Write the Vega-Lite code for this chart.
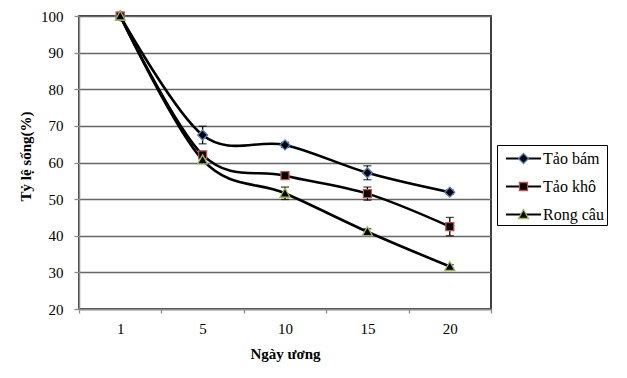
{
  "$schema": "https://vega.github.io/schema/vega-lite/v6.json",
  "width": 412,
  "height": 293,
  "autosize": "none",
  "padding": {"left": 79, "top": 16, "right": 136, "bottom": 69},
  "background": "white",
  "config": {
    "font": "Liberation Serif",
    "view": {"stroke": "black", "strokeWidth": 1.5}
  },
  "data": {
    "values": [
      {"day": "1", "series": "Tảo bám", "value": 100, "err": 0},
      {"day": "5", "series": "Tảo bám", "value": 67.5, "err": 2.4},
      {"day": "10", "series": "Tảo bám", "value": 64.8, "err": 0.7},
      {"day": "15", "series": "Tảo bám", "value": 57.2, "err": 1.9},
      {"day": "20", "series": "Tảo bám", "value": 51.9, "err": 0.6},
      {"day": "1", "series": "Tảo khô", "value": 100, "err": 0},
      {"day": "5", "series": "Tảo khô", "value": 62.1, "err": 0.8},
      {"day": "10", "series": "Tảo khô", "value": 56.4, "err": 0.8},
      {"day": "15", "series": "Tảo khô", "value": 51.5, "err": 1.8},
      {"day": "20", "series": "Tảo khô", "value": 42.5, "err": 2.5},
      {"day": "1", "series": "Rong câu", "value": 100, "err": 0},
      {"day": "5", "series": "Rong câu", "value": 60.7, "err": 0.8},
      {"day": "10", "series": "Rong câu", "value": 51.6, "err": 1.7},
      {"day": "15", "series": "Rong câu", "value": 41.1, "err": 0.8},
      {"day": "20", "series": "Rong câu", "value": 31.6, "err": 0.5}
    ]
  },
  "encoding": {
    "x": {
      "field": "day",
      "type": "ordinal",
      "sort": ["1", "5", "10", "15", "20"],
      "scale": {"type": "band", "paddingInner": 0, "paddingOuter": 0},
      "axis": {
        "title": "Ngày ương",
        "labelAngle": 0,
        "tickBand": "extent",
        "grid": false,
        "domainColor": "#8c8c8c",
        "domainWidth": 1.5,
        "tickColor": "#8c8c8c",
        "tickWidth": 1.3,
        "tickSize": 4,
        "labelFont": "Liberation Serif",
        "labelFontSize": 15,
        "labelColor": "black",
        "labelPadding": 8,
        "titleFont": "Liberation Serif",
        "titleFontSize": 15,
        "titleFontWeight": "bold",
        "titleColor": "black",
        "titlePadding": 10
      }
    },
    "y": {
      "field": "value",
      "type": "quantitative",
      "scale": {"domain": [20, 100], "nice": false, "zero": false},
      "axis": {
        "title": "Tỷ lệ sống(%)",
        "values": [20, 30, 40, 50, 60, 70, 80, 90, 100],
        "grid": true,
        "gridColor": "#666666",
        "gridWidth": 1.3,
        "domainColor": "#8c8c8c",
        "domainWidth": 1.5,
        "tickColor": "#8c8c8c",
        "tickWidth": 1.3,
        "tickSize": 5,
        "labelFont": "Liberation Serif",
        "labelFontSize": 15,
        "labelColor": "black",
        "labelPadding": 11,
        "titleFont": "Liberation Serif",
        "titleFontSize": 15,
        "titleFontWeight": "bold",
        "titleColor": "black",
        "titlePadding": 7,
        "titleY": 140
      }
    }
  },
  "layer": [
    {
      "mark": {"type": "line", "interpolate": "cardinal", "strokeWidth": 2.6},
      "encoding": {
        "color": {
          "field": "series",
          "type": "nominal",
          "sort": ["Tảo bám", "Tảo khô", "Rong câu"],
          "scale": {"range": ["black", "black", "black"]},
          "legend": {
            "title": null,
            "orient": "none",
            "legendX": 418,
            "legendY": 129,
            "symbolType": "M-0.45,0H3.05",
            "symbolSize": 400,
            "symbolStrokeWidth": 2,
            "symbolStrokeColor": "black",
            "labelFont": "Liberation Serif",
            "labelFontSize": 16,
            "labelColor": "black",
            "labelOffset": 21.5,
            "labelExpr": "datum.label + '\u2003\u2003'",
            "padding": 2.5,
            "rowPadding": 9,
            "strokeColor": "black",
            "fillColor": "white"
          }
        }
      }
    },
    {
      "mark": {
        "type": "errorbar",
        "color": "black",
        "ticks": {"size": 8, "thickness": 1.3, "color": "black"},
        "rule": {"strokeWidth": 1.3, "color": "black"}
      },
      "encoding": {"yError": {"field": "err"}}
    },
    {
      "mark": {"type": "point", "filled": true, "fill": "black", "opacity": 1, "strokeWidth": 1.3, "size": 400},
      "encoding": {
        "shape": {
          "field": "series",
          "type": "nominal",
          "scale": {
            "domain": ["Tảo bám", "Tảo khô", "Rong câu"],
            "range": ["M0,-0.5L0.5,0L0,0.5L-0.5,0Z", "M-0.4,-0.4H0.4V0.4H-0.4Z", "M0,-0.5L0.5,0.4H-0.5Z"]
          },
          "legend": {
            "title": null,
            "orient": "none",
            "legendX": 418,
            "legendY": 129,
            "symbolSize": 400,
            "symbolOffset": 13,
            "symbolStrokeWidth": 1.3,
            "symbolFillColor": "black",
            "labelFont": "Liberation Serif",
            "labelFontSize": 16,
            "labelExpr": "''",
            "labelOffset": 21.5,
            "padding": 2.5,
            "rowPadding": 9
          }
        },
        "stroke": {
          "field": "series",
          "type": "nominal",
          "scale": {
            "domain": ["Tảo bám", "Tảo khô", "Rong câu"],
            "range": ["#4F81BD", "#C0504D", "#9BBB59"]
          },
          "legend": {
            "title": null,
            "orient": "none",
            "legendX": 418,
            "legendY": 129,
            "symbolSize": 400,
            "symbolOffset": 13,
            "symbolStrokeWidth": 1.3,
            "symbolFillColor": "black",
            "labelFont": "Liberation Serif",
            "labelFontSize": 16,
            "labelExpr": "''",
            "labelOffset": 21.5,
            "padding": 2.5,
            "rowPadding": 9
          }
        }
      }
    }
  ]
}
